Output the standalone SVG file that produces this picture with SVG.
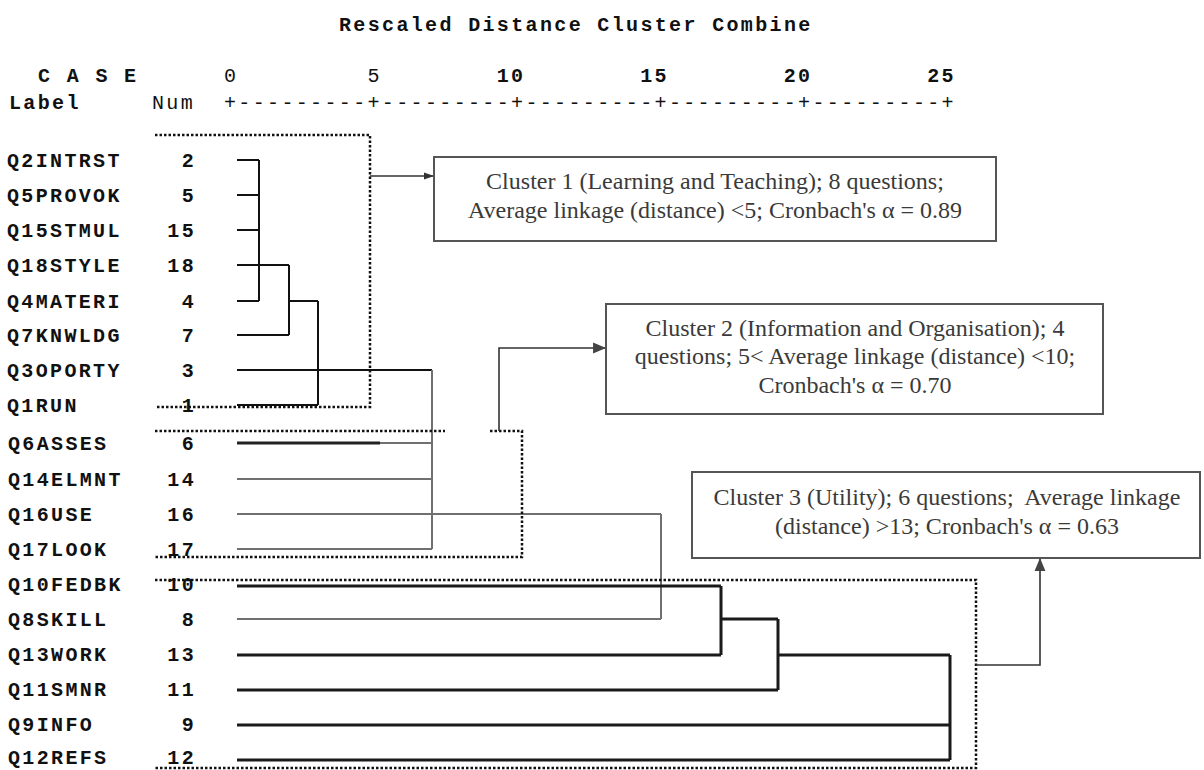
<svg xmlns="http://www.w3.org/2000/svg" width="1204" height="770" viewBox="0 0 1204 770">
<defs>
<marker id="ah" viewBox="0 0 10 10" refX="9" refY="5" markerWidth="10" markerHeight="10" markerUnits="userSpaceOnUse" orient="auto"><path d="M0,1.5 L10,5 L0,8.5 z" fill="#333"/></marker>
<marker id="ah2" viewBox="0 0 12 12" refX="11" refY="6" markerWidth="13" markerHeight="13" markerUnits="userSpaceOnUse" orient="auto"><path d="M0,1 L12,6 L0,11 z" fill="#444"/></marker>
</defs>
<style>
.mono{font-family:"Liberation Mono","Courier New",monospace;font-size:20px;font-weight:bold;letter-spacing:2.35px;fill:#111}
.num{text-anchor:end}
.reg{font-weight:normal}
.ser{font-family:"Liberation Serif","Times New Roman",serif;font-size:24px;fill:#3a3a3a;text-anchor:middle}
.box{fill:#fff;stroke:#555;stroke-width:2}
.g1{stroke:#111;stroke-width:2;fill:none}
.g2{stroke:#707070;stroke-width:2;fill:none}
.g3{stroke:#1a1a1a;stroke-width:3;fill:none}
.dot{stroke:#111;stroke-width:2.5;stroke-dasharray:2.5 2;fill:none}
.arr{stroke:#333;stroke-width:1.6;fill:none}
</style>
<rect width="1204" height="770" fill="#fff"/>

<g id="header">
<text class="mono" x="339" y="31">Rescaled Distance Cluster Combine</text>
<text class="mono" x="38" y="82">C A S E</text>
<text class="mono" x="9" y="109">Label</text>
<text class="mono reg" x="152" y="109">Num</text>
<text class="mono reg" x="224" y="82">0</text>
<text class="mono reg" x="367.5" y="82">5</text>
<text class="mono" x="496.7" y="82">10</text>
<text class="mono" x="640.2" y="82">15</text>
<text class="mono" x="783.7" y="82">20</text>
<text class="mono" x="927.2" y="82">25</text>
<text class="mono reg" x="224" y="109">+---------+---------+---------+---------+---------+</text>
</g>

<g id="row-Q2INTRST"><text class="mono" x="7" y="167">Q2INTRST</text><text class="mono num" x="196" y="167">2</text></g>
<g id="row-Q5PROVOK"><text class="mono" x="7" y="202">Q5PROVOK</text><text class="mono num" x="196" y="202">5</text></g>
<g id="row-Q15STMUL"><text class="mono" x="7" y="237">Q15STMUL</text><text class="mono num" x="196" y="237">15</text></g>
<g id="row-Q18STYLE"><text class="mono" x="7" y="272">Q18STYLE</text><text class="mono num" x="196" y="272">18</text></g>
<g id="row-Q4MATERI"><text class="mono" x="7" y="308">Q4MATERI</text><text class="mono num" x="196" y="308">4</text></g>
<g id="row-Q7KNWLDG"><text class="mono" x="7" y="342">Q7KNWLDG</text><text class="mono num" x="196" y="342">7</text></g>
<g id="row-Q3OPORTY"><text class="mono" x="7" y="377">Q3OPORTY</text><text class="mono num" x="196" y="377">3</text></g>
<g id="row-Q1RUN"><text class="mono" x="7" y="412">Q1RUN</text><text class="mono num" x="196" y="412">1</text></g>
<g id="row-Q6ASSES"><text class="mono" x="8" y="450">Q6ASSES</text><text class="mono num" x="196" y="450">6</text></g>
<g id="row-Q14ELMNT"><text class="mono" x="8" y="486">Q14ELMNT</text><text class="mono num" x="196" y="486">14</text></g>
<g id="row-Q16USE"><text class="mono" x="8" y="521">Q16USE</text><text class="mono num" x="196" y="521">16</text></g>
<g id="row-Q17LOOK"><text class="mono" x="8" y="556">Q17LOOK</text><text class="mono num" x="196" y="556">17</text></g>
<g id="row-Q10FEDBK"><text class="mono" x="8" y="591">Q10FEDBK</text><text class="mono num" x="196" y="591">10</text></g>
<g id="row-Q8SKILL"><text class="mono" x="8" y="626">Q8SKILL</text><text class="mono num" x="196" y="626">8</text></g>
<g id="row-Q13WORK"><text class="mono" x="8" y="661">Q13WORK</text><text class="mono num" x="196" y="661">13</text></g>
<g id="row-Q11SMNR"><text class="mono" x="8" y="696">Q11SMNR</text><text class="mono num" x="196" y="696">11</text></g>
<g id="row-Q9INFO"><text class="mono" x="8" y="731">Q9INFO</text><text class="mono num" x="196" y="731">9</text></g>
<g id="row-Q12REFS"><text class="mono" x="8" y="764">Q12REFS</text><text class="mono num" x="196" y="764">12</text></g>

<g id="cluster1">
<rect class="box" x="434" y="157" width="562" height="84"/>
<text class="ser" x="715" y="189">Cluster 1 (Learning and Teaching); 8 questions;</text>
<text class="ser" x="715" y="218">Average linkage (distance) &lt;5; Cronbach's α = 0.89</text>
</g>
<g id="cluster2">
<rect class="box" x="606" y="304" width="497" height="110"/>
<text class="ser" x="855" y="336">Cluster 2 (Information and Organisation); 4</text>
<text class="ser" x="855" y="364">questions; 5&lt; Average linkage (distance) &lt;10;</text>
<text class="ser" x="855" y="393">Cronbach's α = 0.70</text>
</g>
<g id="cluster3">
<rect class="box" x="692" y="472" width="508" height="86"/>
<text class="ser" x="947" y="505" xml:space="preserve">Cluster 3 (Utility); 6 questions;  Average linkage</text>
<text class="ser" x="947" y="534">(distance) &gt;13; Cronbach's α = 0.63</text>
</g>

<g id="connectors">
<g id="dendro-1" class="g1">
<path d="M237,160H259M237,195H259M237,230H259M237,301H259M259,160V301"/>
<path d="M237,265H289M237,335H289M289,265V335"/>
<path d="M289,301H318M237,405H318M318,301V405"/>
</g>
<g id="dendro-2">
<path class="g1" d="M237,370H432" stroke="#333"/>
<path class="g2" d="M432,370V549M237,443H432M237,479H432M237,514H661M237,549H432M661,514V619M237,619H661"/>
<path d="M237,443H380" stroke="#222" stroke-width="3"/>
</g>
<g id="dendro-3" class="g3">
<path d="M237,586H721M237,655H721M721,586V655"/>
<path d="M721,619H778M237,690H778M778,619V690"/>
<path d="M778,655H950M237,725H950M237,760H950M950,655V760"/>
</g>
<g id="brackets" class="dot">
<path d="M155,135H370V407H155"/>
<path d="M155,431H445M490,431H522V557H155"/>
<path d="M155,580H976V768H155"/>
</g>
<g id="arrows">
<path class="arr" d="M370,176H433" marker-end="url(#ah)"/>
<path class="arr" d="M499,431V348H605" marker-end="url(#ah2)"/>
<path class="arr" d="M976,665H1040V559" marker-end="url(#ah2)"/>
</g>
</g>
</svg>
